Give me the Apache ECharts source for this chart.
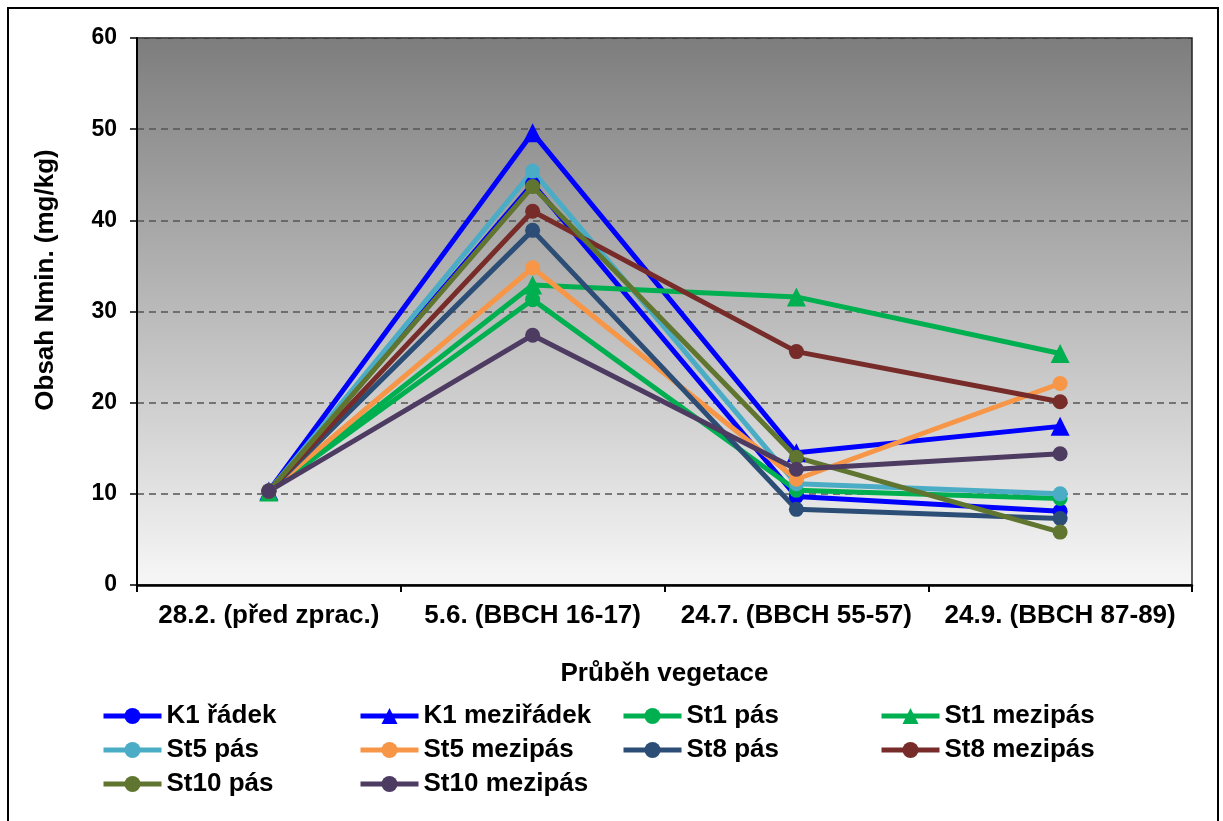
<!DOCTYPE html>
<html>
<head>
<meta charset="utf-8">
<script src="https://cdn.jsdelivr.net/npm/echarts@6/dist/echarts.min.js"></script>
<style>
  html, body { margin: 0; padding: 0; background: #ffffff; }
  #chart { width: 1223px; height: 821px; }
</style>
</head>
<body>
<div id="chart"></div>
<script>
// Sampling dates (growth stage in brackets)
const categories = ['28.2. (před zprac.)', '5.6. (BBCH 16-17)', '24.7. (BBCH 55-57)', '24.9. (BBCH 87-89)'];
const yTicks = [0, 10, 20, 30, 40, 50, 60];

// Nmin content, mg/kg
const k1Radek      = [10.3, 44.0, 9.7, 8.1];
const k1Meziradek  = [10.3, 49.6, 14.5, 17.4];
const st1Pas       = [10.3, 31.3, 10.4, 9.5];
const st1Mezipas   = [10.2, 32.9, 31.6, 25.4];
const st5Pas       = [10.3, 45.4, 11.1, 10.0];
const st5Mezipas   = [10.3, 34.8, 11.6, 22.1];
const st8Pas       = [10.3, 38.9, 8.3, 7.3];
const st8Mezipas   = [10.3, 41.0, 25.6, 20.1];
const st10Pas      = [10.3, 43.7, 14.0, 5.8];
const st10Mezipas  = [10.3, 27.4, 12.7, 14.4];

const seriesDefs = [
  { name: 'K1 řádek',     data: k1Radek,     color: '#0000ff', symbol: 'circle' },
  { name: 'K1 meziřádek', data: k1Meziradek, color: '#0000ff', symbol: 'triangle' },
  { name: 'St1 pás',      data: st1Pas,      color: '#00b050', symbol: 'circle' },
  { name: 'St1 mezipás',  data: st1Mezipas,  color: '#00b050', symbol: 'triangle' },
  { name: 'St5 pás',      data: st5Pas,      color: '#4bacc6', symbol: 'circle' },
  { name: 'St5 mezipás',  data: st5Mezipas,  color: '#f79646', symbol: 'circle' },
  { name: 'St8 pás',      data: st8Pas,      color: '#2c4d75', symbol: 'circle' },
  { name: 'St8 mezipás',  data: st8Mezipas,  color: '#772c2a', symbol: 'circle' },
  { name: 'St10 pás',     data: st10Pas,     color: '#5f7530', symbol: 'circle' },
  { name: 'St10 mezipás', data: st10Mezipas, color: '#4d3b62', symbol: 'circle' }
];

// Legend grid: four columns, three rows
const legendCols = [101, 358, 621, 879];
const legendRows = [718, 752, 786];
const FONT = 'Liberation Sans, Arial, sans-serif';

const legends = seriesDefs.map((s, i) => ({
  data: [s.name],
  left: legendCols[i % 4],
  top: legendRows[Math.floor(i / 4)] - 15,
  padding: 0,
  itemWidth: 58,
  itemHeight: 20,
  itemGap: 4,
  lineStyle: { width: 5 },
  textStyle: { fontFamily: FONT, fontWeight: 'bold', fontSize: 26, color: '#000' }
}));

const chart = echarts.init(document.getElementById('chart'), null, { renderer: 'canvas' });

chart.setOption({
  animation: false,
  backgroundColor: '#ffffff',
  textStyle: { fontFamily: FONT },
  graphic: [
    {
      type: 'rect',
      shape: { x: 8, y: 8, width: 1210, height: 840 },
      style: { fill: 'none', stroke: '#000', lineWidth: 2 },
      z: 100
    },
    {
      type: 'text',
      x: 46,
      y: 280,
      rotation: Math.PI / 2,
      style: {
        text: 'Obsah Nmin. (mg/kg)',
        fontFamily: FONT,
        fontWeight: 'bold',
        fontSize: 26,
        fill: '#000',
        align: 'center',
        verticalAlign: 'middle'
      }
    }
  ],
  grid: {
    left: 137, right: 31, top: 38, bottom: 236,
    show: true,
    borderColor: '#222',
    borderWidth: 1.5,
    backgroundColor: new echarts.graphic.LinearGradient(0, 0, 0, 1, [
      { offset: 0, color: '#7d7d7d' },
      { offset: 1, color: '#f7f7f7' }
    ])
  },
  legend: legends,
  xAxis: {
    type: 'category',
    data: categories,
    boundaryGap: true,
    name: 'Průběh vegetace',
    nameLocation: 'middle',
    nameGap: 76,
    nameTextStyle: { fontFamily: FONT, fontWeight: 'bold', fontSize: 26, color: '#000' },
    axisLine: { lineStyle: { color: '#000', width: 2.5 } },
    axisTick: { show: true, length: 7, lineStyle: { color: '#000', width: 2 } },
    axisLabel: {
      interval: 0,
      hideOverlap: false,
      fontFamily: FONT, fontWeight: 'bold', fontSize: 26, color: '#000', margin: 18
    },
    splitLine: { show: false }
  },
  yAxis: {
    type: 'value',
    min: yTicks[0],
    max: yTicks[yTicks.length - 1],
    interval: 10,
    axisLine: { show: true, lineStyle: { color: '#000', width: 2 } },
    axisTick: { show: true, length: 7, lineStyle: { color: '#000', width: 1.5 } },
    axisLabel: { fontFamily: FONT, fontWeight: 'bold', fontSize: 23, color: '#000', margin: 20 },
    splitLine: { show: true, lineStyle: { color: '#555', width: 1.5, type: [7, 5] } }
  },
  series: seriesDefs.map(s => ({
    name: s.name,
    type: 'line',
    data: s.data,
    symbol: s.symbol,
    symbolSize: s.symbol === 'triangle' ? 19 : 15,
    color: s.color,
    lineStyle: { color: s.color, width: 5 },
    itemStyle: { color: s.color },
    emphasis: { disabled: true }
  }))
});
</script>
</body>
</html>
